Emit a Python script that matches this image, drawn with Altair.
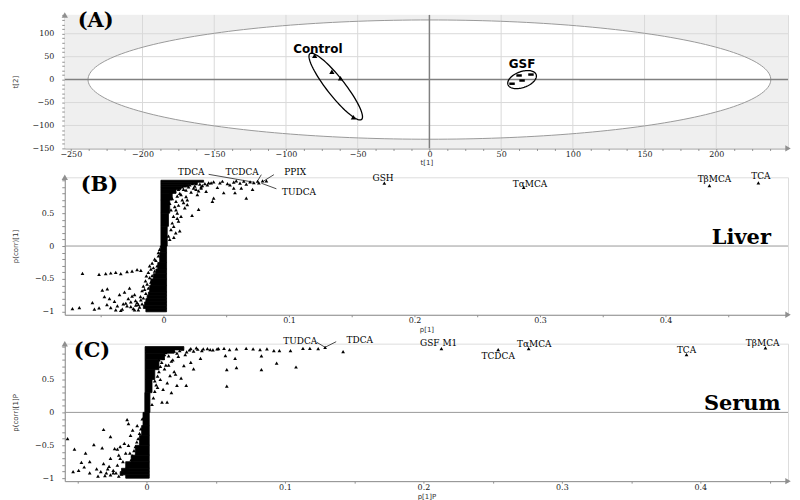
import altair as alt
import numpy as np
import pandas as pd

# ---------------- (A) PCA score plot ----------------
ctrl_t1 = [-80, -68, -62, -53]
ctrl_t2 = [52, 17, 3, -82]
gsf_t1 = [62.5, 70.8, 64.6, 57.6]
gsf_t2 = [9, 11, -2, -9]
hotelling_a = 238
hotelling_b = 130
ctrl_ellipse = [-65.3, -15.2, -18.0, 71.7, 4.9, 12.2]   # cx, cy, ax, ay, bx, by
gsf_ellipse = [64.6, 0.0, 9.8, 11.1, 1.9, -16.3]
grid_t1 = [-200, -150, -100, -50, 50, 100, 150, 200]
grid_t2 = [-100, -50, 50, 100]
group_names = ["Control", "GSF"]
group_label_t1 = [-77.8, 64.6]
group_label_t2 = [67.4, 34.8]

# ---------------- (B) Liver S-plot ----------------
# dense core of overlapping points: row edges (p(corr)) and p[1] extent per row
liver_band_edges = [-1.0, -0.95, -0.9, -0.85, -0.8, -0.75, -0.7, -0.6, -0.5, -0.42, -0.35, -0.25, -0.1,
                    0.0, 0.3, 0.5, 0.7, 0.8, 0.86, 0.9, 0.94, 0.97, 1.0]
liver_band_lo = [-0.014, -0.016, -0.015, -0.014, -0.013, -0.012, -0.011, -0.010, -0.008, -0.006, -0.0045,
                 -0.003, -0.0025, -0.002, -0.002, -0.002, -0.002, -0.002, -0.002, -0.002, -0.002, -0.002]
liver_band_hi = [0.0025, 0.0025, 0.0025, 0.0025, 0.0025, 0.0025, 0.0025, 0.0025, 0.0025, 0.0025, 0.0025,
                 0.0025, 0.0025, 0.003, 0.004, 0.005, 0.007, 0.010, 0.014, 0.02, 0.027, 0.032]
liver_p = [-0.0725, -0.067, -0.0645, -0.0566, -0.0513,
           -0.0513, -0.046, -0.042, -0.038, -0.034, -0.029, -0.025, -0.021, -0.018,
           -0.0487, -0.0447, -0.047, -0.043,
           -0.042, -0.0367, -0.0328, -0.030, -0.028, -0.025, -0.0222, -0.0183, -0.017, -0.016, -0.0143, -0.0136,
           -0.039, -0.035, -0.031, -0.026, -0.023, -0.020, -0.034, -0.038, -0.045, -0.055,
           -0.011, -0.009, -0.007, -0.012, -0.010,
           -0.004, -0.006, -0.005, -0.008, -0.007, -0.009, -0.011, -0.010, -0.013, -0.012, -0.015, -0.014,
           -0.016, -0.018, -0.017, -0.019, -0.020, -0.021, -0.022, -0.023, -0.024, -0.026, -0.027, -0.029,
           -0.032, -0.003, -0.004,
           0.0082, 0.0098, 0.012, 0.0228, 0.028, 0.013, 0.0083, 0.011, 0.014, 0.010, 0.012, 0.017, 0.019, 0.015,
           0.018, 0.022, 0.016, 0.024, 0.027, 0.030, 0.034, 0.039, 0.040, 0.043, 0.048, 0.057, 0.066, 0.062,
           0.053, 0.071, 0.056,
           0.005, 0.006, 0.007, 0.008, 0.006, 0.009, 0.010, 0.007, 0.011, 0.013, 0.009, 0.012, 0.015, 0.014,
           0.016, 0.011, 0.018, 0.020, 0.021, 0.017, 0.019, 0.023, 0.025, 0.026, 0.029, 0.031, 0.033, 0.035,
           0.038, 0.030, 0.028, 0.026, 0.004, 0.005, 0.006,
           0.036, 0.040, 0.045, 0.051, 0.056, 0.061, 0.066, 0.069, 0.082, 0.047, 0.058, 0.064]
liver_pcorr = [-0.95, -0.935, -0.414, -0.86, -0.94,
               -0.43, -0.42, -0.41, -0.40, -0.42, -0.39, -0.38, -0.36, -0.37,
               -0.67, -0.65, -0.77, -0.80,
               -0.935, -0.91, -0.96, -0.87, -0.80, -0.76, -0.83, -0.77, -0.68, -0.61, -0.53, -0.455,
               -0.84, -0.74, -0.70, -0.92, -0.97, -0.89, -0.98, -0.97, -0.89, -0.96,
               -0.30, -0.26, -0.20, -0.40, -0.35,
               -0.15, -0.22, -0.30, -0.33, -0.38, -0.45, -0.48, -0.55, -0.58, -0.64, -0.66, -0.72,
               -0.79, -0.82, -0.88, -0.93, -0.97, -0.86, -0.90, -0.74, -0.95, -0.85, -0.64, -0.91,
               -0.88, -0.05, -0.10,
               0.30, 0.20, 0.38, 0.465, 0.556, 0.23, 0.13, 0.42, 0.45, 0.55, 0.62, 0.58, 0.63, 0.70,
               0.75, 0.82, 0.86, 0.88, 0.78, 0.90, 0.83, 0.68, 0.73, 0.89, 0.81, 0.81, 0.73, 0.88,
               0.93, 0.86, 0.88,
               0.10, 0.25, 0.35, 0.45, 0.55, 0.60, 0.68, 0.72, 0.76, 0.80, 0.83, 0.86, 0.90, 0.78,
               0.66, 0.50, 0.85, 0.90, 0.93, 0.92, 0.70, 0.95, 0.91, 0.86, 0.94, 0.92, 0.95, 0.93,
               0.96, 0.88, 0.84, 0.95, 0.15, 0.65, 0.82,
               0.96, 0.975, 0.96, 0.95, 0.97, 0.955, 0.94, 0.975, 0.99, 0.985, 0.99, 0.985]
liver_names = ["TDCA", "TCDCA", "PPIX", "TUDCA", "GSH", "TαMCA", "TβMCA", "TCA"]
liver_name_p = [0.072, 0.075, 0.079, 0.076, 0.176, 0.287, 0.435, 0.474]
liver_name_pcorr = [0.965, 0.985, 0.99, 0.96, 0.955, 0.89, 0.92, 0.96]
liver_label_p = [0.0222, 0.0627, 0.105, 0.108, 0.175, 0.292, 0.439, 0.476]
liver_label_pcorr = [1.12, 1.12, 1.12, 0.82, 1.03, 0.94, 1.015, 1.06]
liver_lead_p1 = [0.036, 0.078, 0.088, 0.078]
liver_lead_c1 = [1.09, 1.085, 1.085, 0.955]
liver_lead_p2 = [0.072, 0.075, 0.080, 0.090]
liver_lead_c2 = [0.97, 0.99, 0.99, 0.87]

# ---------------- (C) Serum S-plot ----------------
serum_band_edges = [-1.0, -0.95, -0.9, -0.85, -0.75, -0.65, -0.5, -0.35, -0.2, 0.0, 0.3, 0.5, 0.65, 0.8, 0.9, 0.95, 1.0]
serum_band_lo = [-0.015, -0.019, -0.018, -0.015, -0.011, -0.008, -0.005, -0.0035, -0.0025, -0.0012,
                 -0.001, -0.001, -0.001, -0.001, -0.001, -0.001]
serum_band_hi = [0.002, 0.002, 0.002, 0.002, 0.002, 0.002, 0.002, 0.002, 0.002, 0.0025,
                 0.004, 0.006, 0.009, 0.013, 0.02, 0.027]
serum_p = [0.032, 0.036, 0.041, 0.046, 0.051, 0.056, 0.060, 0.065, 0.072, 0.077, 0.082, 0.087, 0.092, 0.096, 0.104, 0.113, 0.118, 0.142,
           0.034, 0.039, 0.057, 0.064, 0.058, 0.058, 0.065, 0.083, 0.083, 0.094, 0.108, 0.0287, 0.025, 0.022, 0.0149, 0.0112,
           0.017, 0.027, 0.032, 0.020, 0.023, 0.028, 0.015, 0.012, 0.010, 0.018, 0.014, 0.019,
           0.004, 0.005, 0.006, 0.007, 0.008, 0.009, 0.010, 0.011, 0.012, 0.013, 0.014, 0.016, 0.018, 0.020,
           0.022, 0.024, 0.026, 0.029, 0.031, 0.034, 0.037, 0.040, 0.044, 0.048, 0.052, 0.006, 0.008, 0.009,
           0.013, 0.016, 0.021,
           -0.057, -0.052, -0.044, -0.049, -0.038, -0.032, -0.031, -0.026, -0.023, -0.021, -0.020, -0.019, -0.016, -0.014,
           -0.013, -0.0115, -0.010, -0.0067, -0.041, -0.045, -0.036, -0.031, -0.028, -0.024, -0.035, -0.041, -0.047, -0.053,
           -0.030, -0.026, -0.017, -0.015, -0.012,
           -0.003, -0.004, -0.005, -0.006, -0.007, -0.008, -0.009, -0.010, -0.011, -0.012, -0.014, -0.016,
           -0.018, -0.020, -0.022, -0.024, -0.026, -0.021, -0.019, -0.015, -0.013, -0.027, -0.029, -0.033]
serum_pcorr = [0.97, 0.98, 0.965, 0.955, 0.965, 0.975, 0.955, 0.965, 0.975, 0.965, 0.955, 0.965, 0.94, 0.94, 0.94, 0.975, 0.975, 0.925,
               0.66, 0.82, 0.864, 0.82, 0.65, 0.40, 0.68, 0.86, 0.65, 0.75, 0.69, 0.41, 0.52, 0.41, 0.156, 0.156,
               0.56, 0.71, 0.76, 0.62, 0.85, 0.88, 0.45, 0.35, 0.50, 0.30, 0.72, 0.80,
               0.12, 0.22, 0.32, 0.42, 0.55, 0.62, 0.70, 0.76, 0.82, 0.88, 0.91, 0.86, 0.78, 0.93,
               0.90, 0.94, 0.96, 0.92, 0.95, 0.93, 0.96, 0.94, 0.97, 0.95, 0.97, 0.48, 0.38, 0.80,
               0.66, 0.72, 0.58,
               -0.40, -0.56, -0.62, -0.88, -0.49, -0.54, -0.26, -0.37, -0.55, -0.56, -0.65, -0.52, -0.47, -0.11,
               -0.17, -0.35, -0.27, -0.20, -0.75, -0.83, -0.86, -0.78, -0.86, -0.92, -0.97, -0.92, -0.76, -0.90,
               -0.96, -0.70, -0.75, -0.88, -0.62,
               -0.10, -0.25, -0.32, -0.40, -0.45, -0.52, -0.58, -0.66, -0.72, -0.78, -0.83, -0.90,
               -0.94, -0.97, -0.92, -0.88, -0.95, -0.80, -0.70, -0.62, -0.50, -0.82, -0.92, -0.90]
serum_names = ["TUDCA", "TDCA", "GSF M1", "TCDCA", "TαMCA", "TCA", "TβMCA"]
serum_name_p = [0.124, 0.129, 0.213, 0.254, 0.276, 0.390, 0.447]
serum_name_pcorr = [0.97, 0.99, 0.97, 0.955, 0.97, 0.88, 0.98]
serum_label_p = [0.111, 0.154, 0.211, 0.254, 0.280, 0.390, 0.445]
serum_label_pcorr = [1.09, 1.106, 1.06, 0.864, 1.045, 0.955, 1.06]
serum_lead_p1 = [0.123, 0.137]
serum_lead_c1 = [1.065, 1.075]
serum_lead_p2 = [0.129, 0.129]
serum_lead_c2 = [0.99, 0.99]

# ---------------- styling ----------------
SERIF = "DejaVu Serif"
SANS = "DejaVu Sans"
GRAY = "#8f8f8f"
W = 726
HA = 134
HB = 138
xA = [-254.2, 250]
yA = [-150, 141]
xB = [-0.0786, 0.4976]
xC = [-0.059, 0.4633]
yS = [-1.045, 1.045]


def axis(values, label_expr, title, orient, fmt, title_y=12):
    common = dict(values=values, labelExpr=label_expr, title=title, grid=False,
                  domainColor=GRAY, tickColor=GRAY, labelFont=SERIF, labelFontSize=8,
                  labelColor="#222", titleFont=SANS, titleFontSize=7, titleFontWeight="normal",
                  titleColor="#333", labelOverlap=False, labelFlush=False, format=fmt)
    if orient == "x":
        return alt.Axis(tickSize=2, labelPadding=0, titleY=title_y, titleBaseline="top", **common)
    return alt.Axis(tickSize=3, labelPadding=8, titleX=-49, titleAngle=270,
                    titleBaseline="middle", **common)


def dummy():
    return pd.DataFrame({"d": [0]})


# ----- panel A -----
ticks_a_x = [-250 + 12.5 * k for k in range(40)]
ticks_a_y = [-150 + 10 * k for k in range(30)]
XA = alt.X("x:Q", scale=alt.Scale(domain=xA, nice=False, zero=False),
           axis=axis(ticks_a_x, "datum.value % 50 == 0 ? datum.label : ''", "t[1]", "x", "d", 10))
YA = alt.Y("y:Q", scale=alt.Scale(domain=yA, nice=False, zero=False),
           axis=axis(ticks_a_y, "datum.value % 50 == 0 ? datum.label : ''", "t[2]", "y", "d"))

th = np.linspace(-np.pi / 2, np.pi / 2, 121)
hot_df = pd.DataFrame({"y": hotelling_b * np.sin(th),
                       "x": -hotelling_a * np.cos(th),
                       "x2": hotelling_a * np.cos(th)})


def ell_df(p, n=90):
    t = np.linspace(0, 2 * np.pi, n)
    cx, cy, ax, ay, bx, by = p
    return pd.DataFrame({"x": cx + ax * np.cos(t) + bx * np.sin(t),
                         "y": cy + ay * np.cos(t) + by * np.sin(t),
                         "o": np.arange(n)})


bgA = alt.Chart(dummy()).mark_rect(color="#efefef").encode(
    x=alt.value(0), x2=alt.value(W), y=alt.value(0), y2=alt.value(HA))
hot_fill = alt.Chart(hot_df).mark_area(orient="horizontal", color="white").encode(
    y=YA, x=XA, x2="x2:Q")
grid_v = alt.Chart(pd.DataFrame({"x": grid_t1})).mark_rule(color="#d9d9d9", strokeWidth=1).encode(x=XA)
grid_h = alt.Chart(pd.DataFrame({"y": grid_t2})).mark_rule(color="#d9d9d9", strokeWidth=1).encode(y=YA)
hot_line = alt.Chart(hot_df).mark_area(orient="horizontal", fillOpacity=0, stroke="#9a9a9a",
                                        strokeWidth=1).encode(y=YA, x=XA, x2="x2:Q")
zero_v = alt.Chart(pd.DataFrame({"x": [0]})).mark_rule(color="#808080", strokeWidth=1.5).encode(x=XA)
zero_h = alt.Chart(pd.DataFrame({"y": [0]})).mark_rule(color="#808080", strokeWidth=1.5).encode(y=YA)
ctrl_pts = alt.Chart(pd.DataFrame({"x": ctrl_t1, "y": ctrl_t2})).mark_point(
    shape="triangle-up", filled=True, color="black", size=28, opacity=1).encode(x=XA, y=YA)
gsf_pts = alt.Chart(pd.DataFrame({"x": gsf_t1, "y": gsf_t2})).mark_point(
    shape="M -1 -0.45 L 1 -0.45 L 1 0.45 L -1 0.45 Z", filled=True, color="black",
    size=30, opacity=1).encode(x=XA, y=YA)
ctrl_ell = alt.Chart(ell_df(ctrl_ellipse)).mark_line(color="black", strokeWidth=1.3).encode(
    x=XA, y=YA, order="o:Q")
gsf_ell = alt.Chart(ell_df(gsf_ellipse)).mark_line(color="black", strokeWidth=1.3).encode(
    x=XA, y=YA, order="o:Q")
group_txt = alt.Chart(pd.DataFrame({"x": group_label_t1, "y": group_label_t2, "t": group_names})).mark_text(
    font=SANS, fontWeight="bold", fontSize=12, color="black").encode(x=XA, y=YA, text="t:N")


def arrows(xd, yd, X, Y):
    up = alt.Chart(pd.DataFrame({"x": [xd[0]], "y": [yd[1]]})).mark_point(
        shape="triangle-up", filled=True, color=GRAY, size=40, opacity=1).encode(x=X, y=Y)
    right = alt.Chart(pd.DataFrame({"x": [xd[1]], "y": [yd[0]]})).mark_point(
        shape="triangle-right", filled=True, color=GRAY, size=40, opacity=1).encode(x=X, y=Y)
    return [up, right]


def panel_tag(tag, x, y):
    return alt.Chart(pd.DataFrame({"t": [tag]})).mark_text(
        font=SERIF, fontWeight="bold", fontSize=21, align="left", baseline="middle",
        color="black").encode(x=alt.value(x), y=alt.value(y), text="t:N")


panelA = alt.layer(bgA, hot_fill, grid_v, grid_h, hot_line, zero_v, zero_h,
                   ctrl_ell, gsf_ell, ctrl_pts, gsf_pts, group_txt,
                   *arrows(xA, yA, XA, YA), panel_tag("(A)", 13, 6)).properties(width=W, height=HA)


# ----- S-plots -----
def splot(xd, edges, band_lo, band_hi, px, py, names, npx, npy, lpx, lpy,
          l1x, l1y, l2x, l2y, xtitle, ytitle, tag, tagx, tagy, tissue, tissue_x):
    xt = [round(-0.05 + 0.05 * k, 2) for k in range(11) if -0.05 + 0.05 * k >= xd[0]]
    yt = [round(-1 + 0.1 * k, 1) for k in range(21)]
    X = alt.X("x:Q", scale=alt.Scale(domain=xd, nice=False, zero=False),
              axis=axis(xt, "abs(datum.value*10 - round(datum.value*10)) < 1e-6 ? datum.label : ''",
                        xtitle, "x", "~g", 11))
    Y = alt.Y("y:Q", scale=alt.Scale(domain=yS, nice=False, zero=False),
              axis=axis(yt, "(abs(datum.value*2 - round(datum.value*2)) < 1e-6 && datum.value < 0.9) ? datum.label : ''",
                        ytitle, "y", "~g"))
    zero = alt.Chart(pd.DataFrame({"y": [0]})).mark_rule(color="#9a9a9a", strokeWidth=1).encode(y=Y)
    band_df = pd.DataFrame({"y": edges[:-1], "y2": edges[1:], "x": band_lo, "x2": band_hi})
    band = alt.Chart(band_df).mark_rect(color="black", stroke="black", strokeWidth=0.8).encode(
        y=Y, y2="y2:Q", x=X, x2="x2:Q")
    pts = alt.Chart(pd.DataFrame({"x": px, "y": py})).mark_point(
        shape="triangle-up", filled=True, color="black", size=14, opacity=1).encode(x=X, y=Y)
    npts = alt.Chart(pd.DataFrame({"x": npx, "y": npy})).mark_point(
        shape="triangle-up", filled=True, color="black", size=14, opacity=1).encode(x=X, y=Y)
    leads = alt.Chart(pd.DataFrame({"x": l1x, "y": l1y, "x2": l2x, "y2": l2y})).mark_rule(
        color="black", strokeWidth=0.7).encode(x=X, y=Y, x2="x2:Q", y2="y2:Q")
    labels = alt.Chart(pd.DataFrame({"x": lpx, "y": lpy, "t": names})).mark_text(
        font=SERIF, fontSize=9, color="black").encode(x=X, y=Y, text="t:N")
    tissue_txt = alt.Chart(pd.DataFrame({"x": [tissue_x], "y": [0.03], "t": [tissue]})).mark_text(
        font=SERIF, fontWeight="bold", fontSize=21, align="right", baseline="alphabetic",
        color="black").encode(x=X, y=Y, text="t:N")
    return alt.layer(zero, band, pts, npts, leads, labels, tissue_txt,
                     *arrows(xd, yS, X, Y), panel_tag(tag, tagx, tagy)).properties(width=W, height=HB)


panelB = splot(xB, liver_band_edges, liver_band_lo, liver_band_hi, liver_p, liver_pcorr,
               liver_names, liver_name_p, liver_name_pcorr, liver_label_p, liver_label_pcorr,
               liver_lead_p1, liver_lead_c1, liver_lead_p2, liver_lead_c2,
               "p[1]", "p(corr)[1]", "(B)", 16, 8, "Liver", 0.484)
panelC = splot(xC, serum_band_edges, serum_band_lo, serum_band_hi, serum_p, serum_pcorr,
               serum_names, serum_name_p, serum_name_pcorr, serum_label_p, serum_label_pcorr,
               serum_lead_p1, serum_lead_c1, serum_lead_p2, serum_lead_c2,
               "p[1]P", "p(corr)[1]P", "(C)", 9, 7, "Serum", 0.458)

chart = alt.vconcat(panelA, panelB, panelC, spacing=29, bounds="flush").properties(
    padding={"left": 3, "top": 0, "right": 0, "bottom": 0}
).configure_view(stroke=None).configure(background="white")

chart.save("out.html", embed_options={"renderer": "svg", "actions": False})
